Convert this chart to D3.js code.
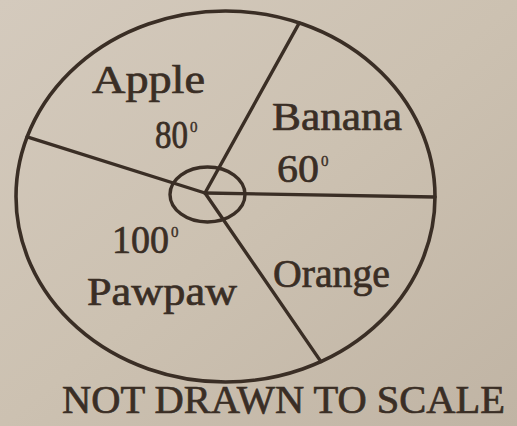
<!DOCTYPE html>
<html>
<head>
<meta charset="utf-8">
<script src="https://cdn.jsdelivr.net/npm/d3@7"></script>
<style>
  html, body { margin: 0; padding: 0; background: #cbc0b1; }
  svg { display: block; }
</style>
</head>
<body>
<svg id="chart" width="517" height="426"></svg>
<script>
// ---- data ----
const categories   = ["Banana", "Orange", "Pawpaw", "Apple"];
const degreeLabels = [60, null, 100, 80];          // angles written in the figure
const sketchShares = [62, 54.5, 142, 101.5];       // sector sizes as sketched (figure is NOT drawn to scale)
const footnote     = "NOT DRAWN TO SCALE";

// ---- layout ----
const W = 517, H = 426;
const ink = "#3a2e25";
const outer = { cx: 225.5, cy: 196.5, rx: 209.5, ry: 185.5 };
const hub = { x: 205, y: 193 };
const hubRing = { cx: 207.5, cy: 194.5, rx: 37.5, ry: 27.5 };
const startDeg = 29;

const svg = d3.select("#chart");
const defs = svg.append("defs");
const grad = defs.append("linearGradient").attr("id", "paper")
  .attr("x1", 0).attr("y1", 0).attr("x2", 1).attr("y2", 1);
grad.append("stop").attr("offset", 0).attr("stop-color", "#d4cabd");
grad.append("stop").attr("offset", 0.5).attr("stop-color", "#ccc1b1");
grad.append("stop").attr("offset", 1).attr("stop-color", "#c0b4a4");
svg.append("rect").attr("width", W).attr("height", H).attr("fill", "url(#paper)");

// pie layout of the sketched sectors
const pie = d3.pie().sort(null).value(d => d.share)
  .startAngle(startDeg * Math.PI / 180)
  .endAngle(startDeg * Math.PI / 180 + 2 * Math.PI);
const slices = pie(categories.map((c, i) => ({ name: c, deg: degreeLabels[i], share: sketchShares[i] })));

// ray from hub to outer ellipse
function rim(a) {
  const dx = Math.sin(a), dy = -Math.cos(a);
  const ox = hub.x - outer.cx, oy = hub.y - outer.cy;
  const A = dx * dx / (outer.rx * outer.rx) + dy * dy / (outer.ry * outer.ry);
  const B = 2 * (ox * dx / (outer.rx * outer.rx) + oy * dy / (outer.ry * outer.ry));
  const C = ox * ox / (outer.rx * outer.rx) + oy * oy / (outer.ry * outer.ry) - 1;
  const t = (-B + Math.sqrt(B * B - 4 * A * C)) / (2 * A);
  return [hub.x + dx * t, hub.y + dy * t];
}

const line = d3.line();
svg.append("g").selectAll("path").data(slices).join("path")
  .attr("d", d => line([[hub.x, hub.y], rim(d.startAngle)]))
  .attr("stroke", ink).attr("stroke-width", 3.4).attr("fill", "none")
  .attr("stroke-linecap", "round");

svg.append("ellipse")
  .attr("cx", outer.cx).attr("cy", outer.cy).attr("rx", outer.rx).attr("ry", outer.ry)
  .attr("fill", "none").attr("stroke", ink).attr("stroke-width", 3.6);

svg.append("ellipse")
  .attr("cx", hubRing.cx).attr("cy", hubRing.cy).attr("rx", hubRing.rx).attr("ry", hubRing.ry)
  .attr("fill", "none").attr("stroke", ink).attr("stroke-width", 3.4);

// label placement per category: name [x, baseline, width], degree number [x, baseline, width]
const labelPos = {
  Apple:  { name: [92, 93, 113],   deg: [155, 148, 33] },
  Banana: { name: [272, 130, 130], deg: [277, 182, 42] },
  Pawpaw: { name: [87, 305, 150],  deg: [112, 253, 57] },
  Orange: { name: [273, 287, 117], deg: null }
};

const txt = svg.append("g")
  .attr("font-family", "'Liberation Serif', 'Times New Roman', serif")
  .attr("fill", ink)
  .attr("stroke", ink).attr("stroke-width", 0.7);

slices.forEach(s => {
  const p = labelPos[s.data.name];
  txt.append("text")
    .attr("x", p.name[0]).attr("y", p.name[1])
    .attr("font-size", 40)
    .attr("textLength", p.name[2]).attr("lengthAdjust", "spacingAndGlyphs")
    .text(s.data.name);
  if (s.data.deg != null && p.deg) {
    const num = txt.append("text")
      .attr("x", 0).attr("y", 0)
      .attr("font-size", 41)
      .text(String(s.data.deg));
    const natural = num.node().getComputedTextLength();
    const sx = p.deg[2] / natural;
    num.attr("transform", `translate(${p.deg[0]},${p.deg[1]}) scale(${sx},1)`)
       .attr("stroke-width", 0.7 / Math.sqrt(sx));
    // small raised degree mark
    txt.append("text")
      .attr("x", p.deg[0] + p.deg[2] + 2).attr("y", p.deg[1] - 16)
      .attr("font-size", 15)
      .attr("stroke-width", 0.4)
      .text("0");
  }
});

txt.append("text")
  .attr("x", 62).attr("y", 413)
  .attr("font-size", 40)
  .attr("textLength", 443).attr("lengthAdjust", "spacingAndGlyphs")
  .text(footnote);
</script>
</body>
</html>
